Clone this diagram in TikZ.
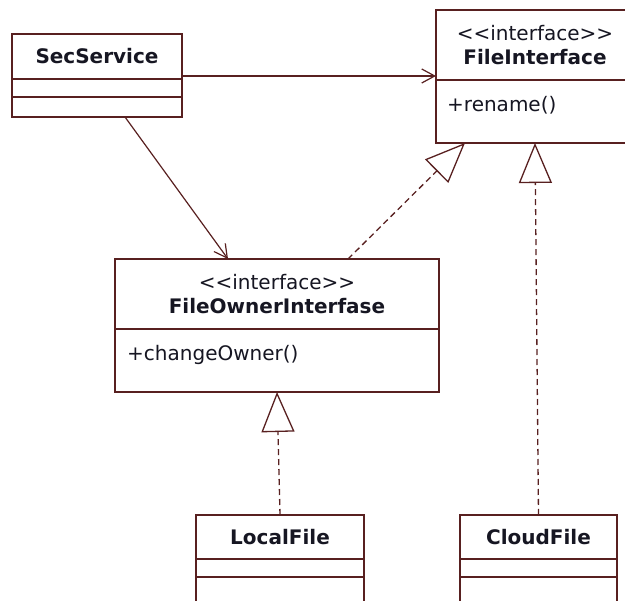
\documentclass[tikz,border=0pt]{standalone}
\usepackage{fontspec}
\setmainfont{DejaVu Sans}
\usetikzlibrary{arrows.meta,positioning}

\definecolor{umlline}{RGB}{88,32,32}
\definecolor{umltext}{RGB}{22,22,34}
\newcommand{\umlfont}{\fontsize{20}{24}\selectfont}
\newcommand{\stereo}{{<}{<}interface{>}{>}}

\tikzset{
  namebox/.style={draw=umlline, line width=1.4pt, fill=white, inner sep=0pt, outer sep=0pt,
    anchor=north west, align=center, font=\umlfont, text=umltext},
  partbox/.style={draw=umlline, line width=1.4pt, fill=white, inner sep=0pt, outer sep=0pt},
  optext/.style={anchor=west, inner sep=0pt, font=\umlfont, text=umltext},
  assoc/.style={draw=umlline, line width=1.2pt, -{Straight Barb[length=13pt,width=14pt]}},
  realize/.style={draw=umlline, line width=1.3pt, dash pattern=on 6pt off 4pt,
    -{Triangle[open,length=40pt,width=33pt,fill=white]}}
}

\begin{document}
\begin{tikzpicture}[x=1pt,y=-1pt]
\useasboundingbox (0,0) rectangle (625,601);

% SecService
\node[namebox, minimum width=170pt, minimum height=45pt] (secname) at (12,34) {\textbf{SecService}};
\node[partbox, minimum width=170pt, minimum height=18pt, below=0pt of secname] (secattr) {};
\node[partbox, minimum width=170pt, minimum height=20pt, below=0pt of secattr] (secops) {};

% FileInterface
\node[namebox, minimum width=198pt, minimum height=70pt] (finame) at (436,10) {\stereo\\\textbf{FileInterface}};
\node[partbox, minimum width=198pt, minimum height=63pt, below=0pt of finame] (fiops) {};
\node[optext] (renameop) at ([xshift=11pt,yshift=-25pt]fiops.north west) {+rename()};

% FileOwnerInterfase
\node[namebox, minimum width=324pt, minimum height=70pt] (foname) at (115,259) {\stereo\\\textbf{FileOwnerInterfase}};
\node[partbox, minimum width=324pt, minimum height=63pt, below=0pt of foname] (foops) {};
\node[optext] (ownerop) at ([xshift=12pt,yshift=-26pt]foops.north west) {+changeOwner()};

% LocalFile, CloudFile
\node[namebox, minimum width=168pt, minimum height=44pt] (lfname) at (196,515) {\textbf{LocalFile}};
\node[partbox, minimum width=168pt, minimum height=18pt, below=0pt of lfname] (lfattr) {};
\node[partbox, minimum width=168pt, minimum height=40pt, below=0pt of lfattr] (lfops) {};

\node[namebox, minimum width=157pt, minimum height=44pt] (cfname) at (460,515) {\textbf{CloudFile}};
\node[partbox, minimum width=157pt, minimum height=18pt, below=0pt of cfname] (cfattr) {};
\node[partbox, minimum width=157pt, minimum height=40pt, below=0pt of cfattr] (cfops) {};

% associations
\coordinate (secout) at ([yshift=3pt]secname.south east);
\draw[assoc] (secout) -- (secout -| finame.west);
\draw[assoc] ([xshift=28pt]secops.south) -- ([xshift=-49pt]foname.north);

% realizations
\draw[realize] ([xshift=71pt]foname.north) -- ([xshift=-70pt]fiops.south);
\draw[realize] (lfname.north) -- (foops.south);
\draw[realize] (cfname.north) -- (fiops.south);

\end{tikzpicture}
\end{document}
